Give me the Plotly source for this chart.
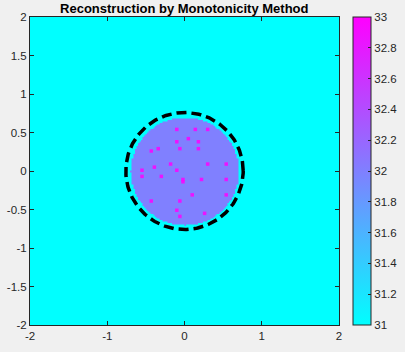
import numpy as np
import plotly.graph_objects as go

# background / inclusion levels
bg_value = 31.0
inclusion_value = 32.0
point_value = 33.0
inclusion_radius = 0.70
true_radius = 0.76

# sampling points found inside the inclusion
pts_x = [-0.10, 0.14, 0.30, 0.05, -0.10, 0.18, -0.34, -0.43, -0.06, 0.18,
         -0.18, 0.30, 0.54, -0.39, -0.55, -0.10, -0.55, -0.30, -0.02, -0.02,
         0.22, 0.54, 0.10, 0.54, -0.43, -0.06, -0.10, 0.26, -0.06]
pts_y = [0.54, 0.54, 0.54, 0.42, 0.38, 0.38, 0.29, 0.26, 0.29, 0.29,
         0.09, 0.09, 0.09, 0.05, 0.01, 0.01, -0.07, -0.07, -0.11, -0.14,
         -0.11, -0.11, -0.31, -0.31, -0.39, -0.39, -0.51, -0.55, -0.59]

x_ticks = [-2, -1, 0, 1, 2]
y_ticks = [-2, -1.5, -1, -0.5, 0, 0.5, 1, 1.5, 2]
cb_ticks = [31, 31.2, 31.4, 31.6, 31.8, 32, 32.2, 32.4, 32.6, 32.8, 33]

def lbl(v):
    return ('%g' % v)

grid = np.linspace(-2, 2, 201)
X, Y = np.meshgrid(grid, grid)
Z = np.where(X**2 + Y**2 <= inclusion_radius**2, inclusion_value, bg_value)

cool = [[0, '#00ffff'], [1, '#ff00ff']]
font = 'Liberation Sans, Arial, sans-serif'

fig = go.Figure()
fig.add_trace(go.Heatmap(
    x=grid, y=grid, z=Z, zmin=31, zmax=33, colorscale=cool, zsmooth='best',
    colorbar=dict(x=1.045, xanchor='left', y=0.5, yanchor='middle', len=1.0,
                  lenmode='fraction', thickness=18, outlinewidth=1,
                  outlinecolor='#262626', ticks='inside', ticklen=3,
                  tickcolor='#262626', tickvals=cb_ticks,
                  ticktext=[lbl(v) for v in cb_ticks], xpad=0, ypad=0,
                  tickfont=dict(family=font, size=11.5, color='#262626')),
    hoverinfo='skip'))

fig.add_trace(go.Scatter(
    x=pts_x, y=pts_y, mode='markers',
    marker=dict(symbol='square', size=3.5, color='#ff00ff', opacity=0.85),
    showlegend=False, hoverinfo='skip'))

t = np.linspace(0, 2 * np.pi, 300)
fig.add_trace(go.Scatter(
    x=true_radius * np.cos(t), y=true_radius * np.sin(t), mode='lines',
    line=dict(color='black', width=3.5, dash='10px,5px'),
    showlegend=False, hoverinfo='skip'))

axis_common = dict(showgrid=False, zeroline=False, showline=True, mirror='ticks',
                   linecolor='#262626', linewidth=1, ticks='inside', ticklen=4,
                   tickcolor='#262626',
                   tickfont=dict(family=font, size=11.5, color='#262626'))

fig.update_layout(
    width=405, height=352,
    margin=dict(l=30, r=66, t=17, b=27, autoexpand=False),
    paper_bgcolor='#f0f0f0', plot_bgcolor='#00ffff',
    title=dict(text='<b>Reconstruction by Monotonicity Method</b>', x=0.455,
               xanchor='center', y=0.99, yanchor='top',
               font=dict(family=font, size=13, color='black')),
    xaxis=dict(range=[-2, 2], tickvals=x_ticks, ticktext=[lbl(v) for v in x_ticks],
               **axis_common),
    yaxis=dict(range=[-2, 2], tickvals=y_ticks, ticktext=[lbl(v) for v in y_ticks],
               **axis_common),
)

# page body has a default 8px margin; remove it so the figure fills the window
fig.write_html("out.html", config={'displayModeBar': False},
               post_script="document.body.style.margin='0';")
